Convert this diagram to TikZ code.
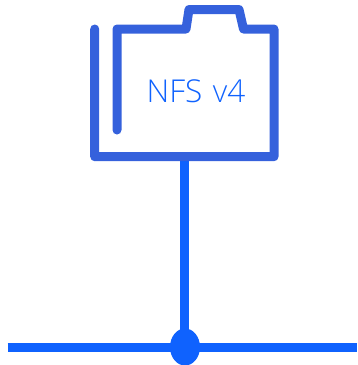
\documentclass[tikz,border=0pt]{standalone}
\usepackage{fontspec}
\setmainfont{Open Sans Light}[WordSpace=1.3]
\usetikzlibrary{shapes.geometric}
\definecolor{folderblue}{HTML}{3561DC}
\definecolor{linkblue}{HTML}{0F62FE}
\tikzset{
  folderline/.style={draw=folderblue,line width=9pt,line cap=round,line join=round},
  linkline/.style={draw=linkblue,line width=9pt},
  junction/.style={ellipse,fill=linkblue,inner sep=0pt,minimum width=30pt,minimum height=37pt},
  caption/.style={text=linkblue,font=\fontsize{31.5}{36}\selectfont,inner sep=0pt}
}
\begin{document}
\begin{tikzpicture}[x=1pt,y=-1pt]
\useasboundingbox (0,0) rectangle (357,365);
\coordinate (folderbottom) at (184,156);
\coordinate (busleft) at (7.5,347);
\coordinate (busright) at (357,347);
\draw[linkline] (busleft) -- (busright);
\draw[linkline] (folderbottom) -- (184,340);
\node[junction] (joint) at (185,347) {};
\draw[folderline] (94.7,29) -- (94.7,156.7) -- (274,156.7) -- (274,29) -- (243.5,29) -- (239,9.5) -- (189,9.5) -- (186,29) -- (117,29) -- (117,130);
\node[caption] (label) at (196,91) {NFS v4};
\end{tikzpicture}
\end{document}
